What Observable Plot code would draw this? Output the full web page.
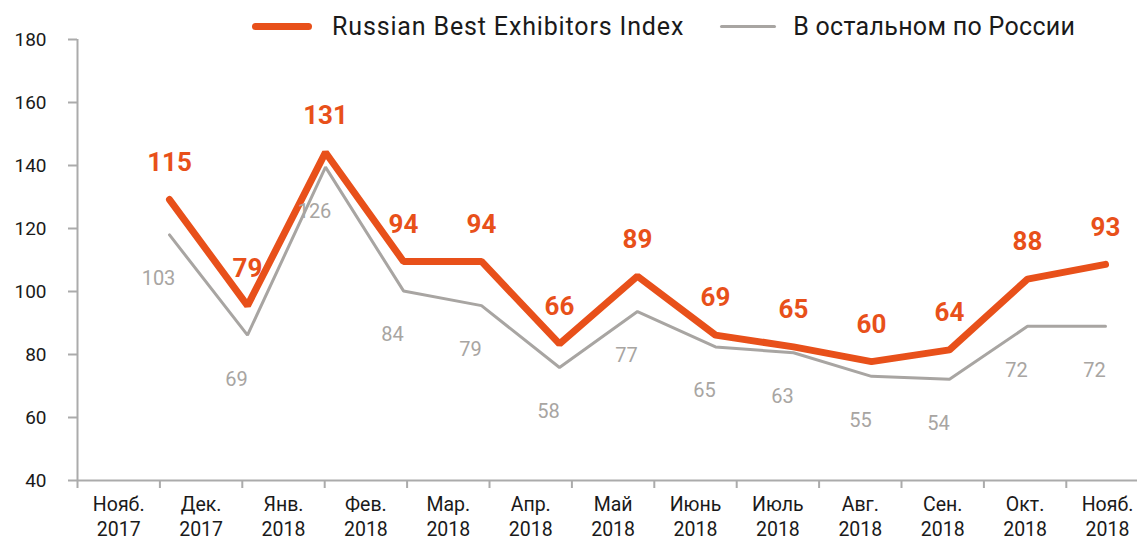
<!DOCTYPE html>
<html>
<head>
<meta charset="utf-8">
<script src="https://cdn.jsdelivr.net/npm/d3@7"></script>
<script src="https://cdn.jsdelivr.net/npm/@observablehq/plot@0.6"></script>
<style>
  html, body { margin: 0; padding: 0; background: #fff; }
  #chart { position: relative; width: 1137px; height: 543px; font-family: Roboto, sans-serif; }
  #chart svg { position: absolute; left: 0; top: 0; }
  #legend { position: absolute; left: 252px; top: 12px; display: flex; align-items: center; font-size: 25px; color: #1a1a1a; z-index: 2; }
  .sw { display: inline-block; border-radius: 4px; }
</style>
</head>
<body>
<div id="chart">
  <div id="legend">
    <span class="sw" style="width:60px;height:7px;background:#e8501a;margin-right:20px;"></span>
    <span style="letter-spacing:0.85px;">Russian Best Exhibitors Index</span>
    <span class="sw" style="width:56px;height:3px;background:#a8a5a2;margin-left:36px;margin-right:17px;"></span>
    <span style="letter-spacing:0.3px;">В остальном по России</span>
  </div>
</div>
<script>
// Categories (months)
const months = ["Нояб.\n2017", "Дек.\n2017", "Янв.\n2018", "Фев.\n2018", "Мар.\n2018", "Апр.\n2018", "Май\n2018", "Июнь\n2018", "Июль\n2018", "Авг.\n2018", "Сен.\n2018", "Окт.\n2018", "Нояб.\n2018"];
// Series values
const rbeIndex = [115, 79, 131, 94, 94, 66, 89, 69, 65, 60, 64, 88, 93];
const restOfRussia = [103, 69, 126, 84, 79, 58, 77, 65, 63, 55, 54, 72, 72];
// Primary (visible) axis ticks
const yTicks = [40, 60, 80, 100, 120, 140, 160, 180];
// Secondary (hidden) axis range used by the lines
const secondaryDomain = [20, 170];

const orange = "#e8501a";
const gray = "#a8a5a2";
const axisGray = "#ababab";
const W = 1137, H = 543, MT = 39, MB = 63;

// Layer 1: visible axes (primary axes)
const axes = Plot.plot({
  width: W, height: H,
  marginTop: MT, marginBottom: MB, marginLeft: 77, marginRight: 0,
  x: {type: "linear", domain: [0, months.length], range: [77, 77 + months.length * 82.4]},
  y: {domain: [40, 180]},
  style: {fontFamily: "Roboto, sans-serif", background: "transparent", overflow: "visible"},
  marks: [
    Plot.axisY({ticks: yTicks, tickSize: 9, tickPadding: 22, stroke: axisGray, strokeWidth: 2, fill: "#1a1a1a", fontSize: 19}),
    Plot.axisX({ticks: d3.range(months.length), tickSize: 8, tickFormat: () => "", stroke: axisGray, strokeWidth: 2}),
    Plot.ruleX([0], {stroke: axisGray, strokeWidth: 2}),
    Plot.ruleY([40], {stroke: axisGray, strokeWidth: 2}),
    Plot.text(months, {x: (d, i) => i + 0.5, y: 40, text: d => d, lineAnchor: "top", dy: 13, fontSize: 19.5, lineHeight: 1.28, fill: "#1a1a1a"})
  ]
});

// Layer 2: lines on the secondary (hidden) axes
const lines = Plot.plot({
  width: W, height: H,
  marginTop: 37, marginBottom: 64, marginLeft: 168, marginRight: 31,
  x: {type: "point", domain: months, padding: 0, axis: null},
  y: {domain: secondaryDomain, axis: null},
  style: {fontFamily: "Roboto, sans-serif", background: "transparent", overflow: "visible"},
  marks: [
    Plot.line(restOfRussia, {x: (d, i) => months[i], y: d => d, stroke: gray, strokeWidth: 3, strokeLinejoin: "miter"}),
    Plot.line(rbeIndex, {x: (d, i) => months[i], y: d => d, stroke: orange, strokeWidth: 7, strokeLinecap: "round", strokeLinejoin: "miter"}),
    Plot.text(restOfRussia, {x: (d, i) => months[i], y: d => d, text: d => String(d), dx: -11, dy: 44, fill: gray, fontSize: 20}),
    Plot.text(rbeIndex, {x: (d, i) => months[i], y: d => d, text: d => String(d), dy: -37, fill: orange, fontSize: 26, fontWeight: "bold"})
  ]
});

const chart = document.getElementById("chart");
chart.appendChild(axes);
chart.appendChild(lines);
</script>
</body>
</html>
